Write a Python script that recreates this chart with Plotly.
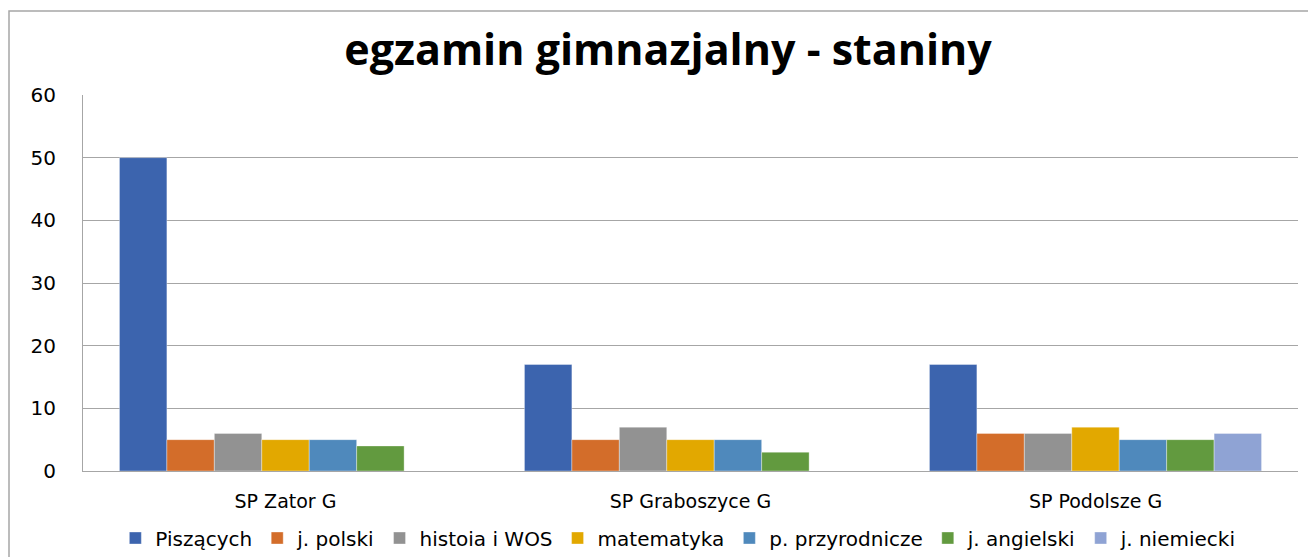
import plotly.graph_objects as go

schools = ["SP Zator G", "SP Graboszyce G", "SP Podolsze G"]

series_names = [
    "Piszących",
    "j. polski",
    "histoia i WOS",
    "matematyka",
    "p. przyrodnicze",
    "j. angielski",
    "j. niemiecki",
]

piszacych = [50, 17, 17]
j_polski = [5, 5, 6]
historia_wos = [6, 7, 6]
matematyka = [5, 5, 7]
przyrodnicze = [5, 5, 5]
j_angielski = [4, 3, 5]
j_niemiecki = [None, None, 6]

series_values = [piszacych, j_polski, historia_wos, matematyka,
                 przyrodnicze, j_angielski, j_niemiecki]

colors = ["#3C64AE", "#D36D2A", "#929292", "#E2A800",
          "#4F89BC", "#629A3F", "#8FA3D4"]

W, H = 1308, 557
L, R, T, B = 83, 10, 95, 86
plot_w = W - L - R
plot_h = H - T - B

fig = go.Figure()
for name, vals, col in zip(series_names, series_values, colors):
    fig.add_trace(go.Bar(
        x=schools, y=vals, name=name,
        marker=dict(color=col, line=dict(color="rgba(255,255,255,0.6)", width=0.6)),
    ))

def px_x(p):
    return (p - L) / plot_w

def px_y(p):
    return (H - B - p) / plot_h

fig.update_layout(
    width=W, height=H,
    margin=dict(l=L, r=R, t=T, b=B, autoexpand=False),
    paper_bgcolor="white",
    plot_bgcolor="white",
    barmode="group",
    bargap=0.18,
    bargroupgap=0,
    title=dict(
        text="<b>egzamin gimnazjalny - staniny</b>",
        x=668 / W, xanchor="center",
        y=1 - 50 / H, yanchor="middle", yref="container",
        font=dict(family="Open Sans", size=43, color="black"),
    ),
    font=dict(family="DejaVu Sans", color="black"),
    xaxis=dict(
        showgrid=False,
        showline=True, linecolor="#A6A6A6", linewidth=1,
        ticks="",
        tickfont=dict(size=19, color="black"),
        ticklabelstandoff=13,
    ),
    yaxis=dict(
        range=[0, 60],
        dtick=10,
        showgrid=True, gridcolor="#A6A6A6", gridwidth=1,
        showline=True, linecolor="#A6A6A6", linewidth=1,
        zeroline=True, zerolinecolor="#A6A6A6", zerolinewidth=1,
        ticks="",
        tickfont=dict(size=20, color="black"),
        ticklabelstandoff=22,
    ),
    legend=dict(
        orientation="h",
        x=0.49, xanchor="center",
        y=px_y(538), yanchor="middle",
        font=dict(size=20, color="black"),
        itemwidth=30,
        traceorder="normal",
    ),
    shapes=[dict(
        type="rect", xref="paper", yref="paper",
        x0=px_x(9), x1=px_x(1312), y0=px_y(562), y1=px_y(11),
        line=dict(color="#A6A6A6", width=1.5),
        fillcolor="rgba(0,0,0,0)", layer="below",
    )],
)

fig.write_html("out.html")
